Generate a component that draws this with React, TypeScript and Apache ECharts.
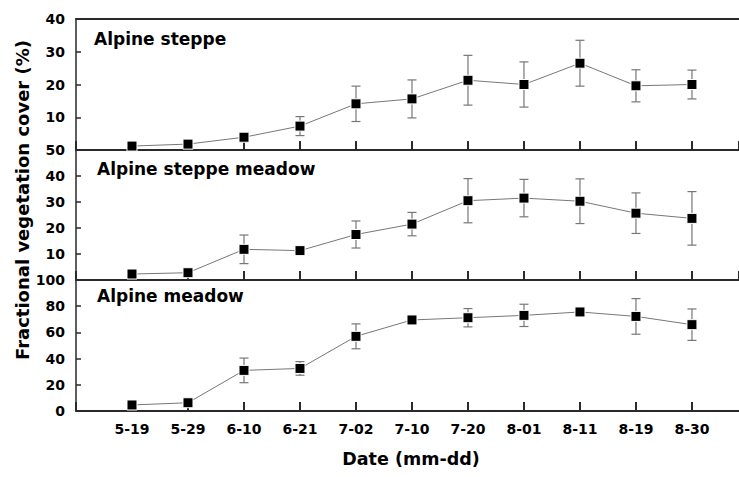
import React, { useEffect, useRef } from "react";
import * as echarts from "echarts";

const dates = ["5-19", "5-29", "6-10", "6-21", "7-02", "7-10", "7-20", "8-01", "8-11", "8-19", "8-30"];

const steppeMean = [1.2, 1.8, 3.9, 7.3, 14.1, 15.6, 21.3, 20.0, 26.5, 19.6, 20.0];
const steppeErr = [0.8, 0.7, 1.4, 2.9, 5.4, 5.8, 7.6, 6.9, 7.0, 4.9, 4.4];

const steppeMeadowMean = [2.3, 2.8, 11.8, 11.3, 17.5, 21.5, 30.5, 31.5, 30.3, 25.7, 23.7];
const steppeMeadowErr = [0.8, 0.8, 5.5, 1.0, 5.2, 4.5, 8.5, 7.2, 8.6, 7.8, 10.3];

const meadowMean = [4.6, 6.3, 31.0, 32.5, 57.0, 69.5, 71.2, 73.0, 75.6, 72.2, 65.9];
const meadowErr = [1.0, 1.0, 9.4, 5.2, 9.5, 1.5, 7.0, 8.5, 1.5, 13.6, 12.0];

const panelNames = ["Alpine steppe", "Alpine steppe meadow", "Alpine meadow"];
const yMax = [40, 50, 100];
const yStep = [10, 10, 20];
const xMax = 11.84;

const FONT = "DejaVu Sans";
const AXIS = "#2a2a2a";

export default function App() {
  const ref = useRef<HTMLDivElement>(null);
  useEffect(() => {
    if (!ref.current) return;
    const chart = echarts.init(ref.current, null, { renderer: "svg" });
    const means = [steppeMean, steppeMeadowMean, meadowMean];
    const errs = [steppeErr, steppeMeadowErr, meadowErr];
    const grids = [
      { left: 76, top: 19, right: 0, height: 131 },
      { left: 76, top: 150, right: 0, height: 130 },
      { left: 76, top: 280, right: 0, height: 131 },
    ];
    const xAxes: any[] = [0, 1, 2].map((k) => ({
      gridIndex: k,
      type: "value",
      min: 0,
      max: xMax,
      interval: 1,
      axisLine: { show: true, onZero: false, lineStyle: { color: AXIS, width: 2 } },
      axisTick: { show: true, inside: true, length: 9, lineStyle: { color: AXIS, width: 2 } },
      axisLabel: {
        show: k === 2,
        showMaxLabel: false,
        formatter: (v: number) => (Number.isInteger(v) ? dates[v - 1] ?? "" : ""),
        fontFamily: FONT,
        fontWeight: "bold",
        fontSize: 14,
        color: "#000",
        margin: 11,
      },
      splitLine: { show: false },
    }));
    // top frame line of the first panel
    xAxes.push({
      gridIndex: 0,
      type: "value",
      position: "top",
      min: 0,
      max: xMax,
      interval: 1,
      axisLine: { show: true, onZero: false, lineStyle: { color: AXIS, width: 2 } },
      axisTick: { show: false },
      axisLabel: { show: false },
      splitLine: { show: false },
    });
    const yAxes = [0, 1, 2].map((k) => ({
      gridIndex: k,
      type: "value",
      min: 0,
      max: yMax[k],
      interval: yStep[k],
      axisLine: { show: true, lineStyle: { color: AXIS, width: 1.5 } },
      axisTick: { show: true, inside: true, length: 5, lineStyle: { color: AXIS, width: 1.5 } },
      axisLabel: {
        showMinLabel: k === 2,
        fontFamily: FONT,
        fontWeight: "bold",
        fontSize: 14,
        color: "#000",
        margin: 11,
      },
      splitLine: { show: false },
    }));
    const series: any[] = [];
    [0, 1, 2].forEach((k) => {
      series.push({
        type: "custom",
        xAxisIndex: k,
        yAxisIndex: k,
        z: 1,
        data: dates.map((_, i) => [i + 1, means[k][i], errs[k][i]]),
        encode: { x: 0, y: 1 },
        renderItem: (params: any, api: any) => {
          const x = api.value(0);
          const y = api.value(1);
          const e = api.value(2);
          const top = api.coord([x, y + e]);
          const bot = api.coord([x, y - e]);
          const hw = 4.5;
          const style = { stroke: "#777", lineWidth: 1.2 };
          return {
            type: "group",
            children: [
              { type: "line", shape: { x1: top[0], y1: top[1], x2: bot[0], y2: bot[1] }, style },
              { type: "line", shape: { x1: top[0] - hw, y1: top[1], x2: top[0] + hw, y2: top[1] }, style },
              { type: "line", shape: { x1: bot[0] - hw, y1: bot[1], x2: bot[0] + hw, y2: bot[1] }, style },
            ],
          };
        },
      });
      series.push({
        type: "line",
        xAxisIndex: k,
        yAxisIndex: k,
        z: 3,
        data: dates.map((_, i) => [i + 1, means[k][i]]),
        symbol: "rect",
        symbolSize: 10,
        itemStyle: { color: "#000", borderColor: "#fff", borderWidth: 1 },
        lineStyle: { color: "#777", width: 1 },
      });
    });
    const titleY = [40, 170, 297.5];
    const titleX = [94, 97, 97];
    const graphic: any[] = panelNames.map((name, k) => ({
      type: "text",
      left: titleX[k],
      top: titleY[k] - 10,
      style: { text: name, fontFamily: FONT, fontWeight: "bold", fontSize: 17, fill: "#000" },
    }));
    graphic.push({
      type: "text",
      x: 22,
      y: 200,
      rotation: Math.PI / 2,
      style: {
        text: "Fractional vegetation cover (%)",
        fontFamily: FONT,
        fontWeight: "bold",
        fontSize: 18,
        fill: "#000",
        align: "center",
        verticalAlign: "middle",
      },
    });
    graphic.push({
      type: "text",
      x: 411,
      y: 459,
      style: {
        text: "Date (mm-dd)",
        fontFamily: FONT,
        fontWeight: "bold",
        fontSize: 17.5,
        fill: "#000",
        align: "center",
        verticalAlign: "middle",
      },
    });
    chart.setOption({
      animation: false,
      backgroundColor: "#fff",
      grid: grids,
      xAxis: xAxes,
      yAxis: yAxes,
      series,
      graphic,
    });
    return () => chart.dispose();
  }, []);
  return (
    <div
      ref={ref}
      style={{ position: "fixed", left: 0, top: 0, width: 739, height: 477 }}
    />
  );
}
